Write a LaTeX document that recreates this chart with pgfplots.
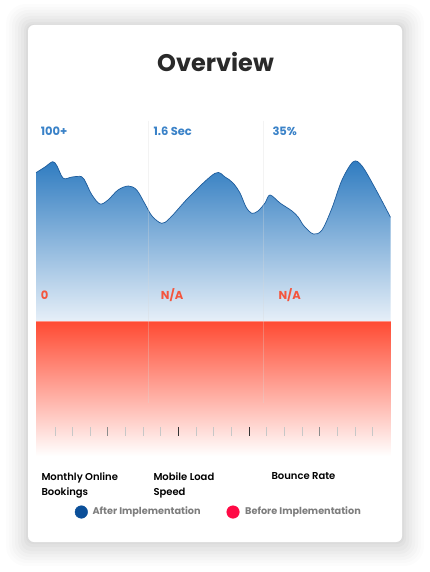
\documentclass[border=0pt]{standalone}
\usepackage{pgfplots}
\pgfplotsset{compat=1.18}
\usepackage{fontspec}
\setmainfont{Poppins}
\newfontfamily\popbold{Poppins Bold}
\newfontfamily\popsemi{Poppins SemiBold}
\newfontfamily\popmed{Poppins Medium}
\definecolor{bluetop}{HTML}{2E7BC0}
\definecolor{bluebot}{HTML}{E6EFF8}
\definecolor{blueline}{HTML}{1D5C9C}
\definecolor{bluetxt}{HTML}{3A82C8}
\definecolor{redtop}{HTML}{FF4A32}
\definecolor{redtxt}{HTML}{F4553D}
\definecolor{legblue}{HTML}{0B4F99}
\definecolor{legred}{HTML}{FF0A45}
\definecolor{legtxt}{HTML}{7D7D7D}
\definecolor{titlec}{HTML}{2A2A2A}
\definecolor{gridc}{HTML}{D8D8D8}
\begin{document}
\begin{tikzpicture}
\begin{axis}[
  x=1pt, y=1pt, y dir=reverse,
  xmin=0, xmax=430, ymin=0, ymax=572,
  hide axis, clip=false, scale only axis,
  unbounded coords=jump,
]
% page background
\fill[white] (axis cs:0,0) rectangle (axis cs:430,572);
% card shadow
\fill[black, opacity=0.010, rounded corners=20pt] (axis cs:6,4) rectangle (axis cs:424,566);
\fill[black, opacity=0.012, rounded corners=18pt] (axis cs:9,7) rectangle (axis cs:421,563);
\fill[black, opacity=0.014, rounded corners=16pt] (axis cs:12,10) rectangle (axis cs:418,560);
\fill[black, opacity=0.016, rounded corners=14pt] (axis cs:15,13) rectangle (axis cs:415,557);
\fill[black, opacity=0.018, rounded corners=12pt] (axis cs:18,16) rectangle (axis cs:412,554);
\fill[black, opacity=0.020, rounded corners=10pt] (axis cs:21,19) rectangle (axis cs:409,551);
\fill[black, opacity=0.022, rounded corners=8pt] (axis cs:24,22) rectangle (axis cs:406,547);
\fill[black, opacity=0.025, rounded corners=7pt] (axis cs:26,24) rectangle (axis cs:404,544);
% card
\fill[white, rounded corners=6pt] (axis cs:28,25) rectangle (axis cs:402,542);

% blue area (after implementation)
\addplot[draw=none, top color=bluetop, bottom color=bluebot, smooth, tension=0.55] coordinates {
(36,172.7)(45,167)(52.7,161.7)(57,166)(63.3,178.3)(72,177)(81.7,176.7)(86,183)(92,195)(100,204)
(108,200)(118,190)(128.3,186)(136.7,190)(145,204)(152,216)(161.7,223.3)(170,218)(190,196)(215,173.3)
(225,177)(233,183)(240,193)(246,207)(251.7,213.3)(258,211)(265,203)(270,195)(280,203)(292,211)
(298.3,217.3)(304,226)(313.3,234)(322,230)(332,208)(342,180)(353.3,161.7)(362,166)(375,188)(390.5,217.3)
} -- (axis cs:390.5,321) -- (axis cs:36,321) -- cycle;
\addplot[blueline, line width=0.7pt, smooth, tension=0.55] coordinates {
(36,172.7)(45,167)(52.7,161.7)(57,166)(63.3,178.3)(72,177)(81.7,176.7)(86,183)(92,195)(100,204)
(108,200)(118,190)(128.3,186)(136.7,190)(145,204)(152,216)(161.7,223.3)(170,218)(190,196)(215,173.3)
(225,177)(233,183)(240,193)(246,207)(251.7,213.3)(258,211)(265,203)(270,195)(280,203)(292,211)
(298.3,217.3)(304,226)(313.3,234)(322,230)(332,208)(342,180)(353.3,161.7)(362,166)(375,188)(390.5,217.3)
};
% red area (before implementation)
\addplot[draw=none, top color=redtop, bottom color=white] coordinates {
(36,321)(390.5,321)(390.5,456)(36,456)
} -- cycle;
\addplot[color=redtop!60!white, line width=0.5pt] coordinates {(36,321)(390.5,321)};

% vertical separators
\addplot[gridc, line width=0.4pt, opacity=0.3] coordinates {(148.5,121)(148.5,403) (148.5,nan) (263,121)(263,403)};

% ticks
\addplot[black!22, line width=0.7pt] coordinates {
(55,427)(55,436) (55,nan) (72.3,427)(72.3,436) (72.3,nan) (90.3,427)(90.3,436) (90.3,nan)
(125.7,427)(125.7,436) (125.7,nan) (143.3,427)(143.3,436) (143.3,nan) (160.7,427)(160.7,436) (160.7,nan)
(196.3,427)(196.3,436) (196.3,nan) (213.7,427)(213.7,436) (213.7,nan) (231.3,427)(231.3,436) (231.3,nan)
(266.7,427)(266.7,436) (266.7,nan) (284.3,427)(284.3,436) (284.3,nan) (302.3,427)(302.3,436) (302.3,nan)
(337.3,427)(337.3,436) (337.3,nan) (355,427)(355,436) (355,nan) (372.7,427)(372.7,436)
};
\addplot[black!45, line width=0.7pt] coordinates {(107.7,427)(107.7,436) (107.7,nan) (319.7,427)(319.7,436)};
\addplot[black!80, line width=0.7pt] coordinates {(178.3,427)(178.3,436) (178.3,nan) (249.3,427)(249.3,436)};

% legend markers
\addplot[only marks, mark=*, mark size=6.3pt, color=legblue] coordinates {(81.3,512)};
\addplot[only marks, mark=*, mark size=6.3pt, color=legred] coordinates {(233,512)};

% texts
\node[titlec, font=\popbold\fontsize{24}{28}\selectfont] at (axis cs:215.5,61.5) {Overview};
\node[bluetxt, anchor=west, inner sep=0pt, font=\popbold\fontsize{11.5}{14}\selectfont] at (axis cs:40.7,131) {100+};
\node[bluetxt, anchor=west, inner sep=0pt, font=\popbold\fontsize{11.5}{14}\selectfont] at (axis cs:153.3,131) {1.6 Sec};
\node[bluetxt, anchor=west, inner sep=0pt, font=\popbold\fontsize{11.5}{14}\selectfont] at (axis cs:272.3,131) {35\%};
\node[redtxt, anchor=west, inner sep=0pt, font=\popbold\fontsize{11.5}{14}\selectfont] at (axis cs:40.7,295) {0};
\node[redtxt, anchor=west, inner sep=0pt, font=\popbold\fontsize{11.5}{14}\selectfont] at (axis cs:160.7,295) {N/A};
\node[redtxt, anchor=west, inner sep=0pt, font=\popbold\fontsize{11.5}{14}\selectfont] at (axis cs:278.3,295) {N/A};
\node[black, anchor=north west, inner sep=0pt, align=left, font=\popsemi\fontsize{10}{15}\selectfont] at (axis cs:41.3,472) {Monthly Online\\Bookings};
\node[black, anchor=north west, inner sep=0pt, align=left, font=\popsemi\fontsize{10}{15}\selectfont] at (axis cs:153.3,472) {Mobile Load\\Speed};
\node[black, anchor=north west, inner sep=0pt, align=left, font=\popsemi\fontsize{10}{15}\selectfont] at (axis cs:271.3,472) {Bounce Rate};
\node[legtxt, anchor=west, inner sep=0pt, font=\popbold\fontsize{9.7}{12}\selectfont] at (axis cs:92.3,512) {After Implementation};
\node[legtxt, anchor=west, inner sep=0pt, font=\popbold\fontsize{9.7}{12}\selectfont] at (axis cs:245,512) {Before Implementation};
\end{axis}
\end{tikzpicture}
\end{document}
